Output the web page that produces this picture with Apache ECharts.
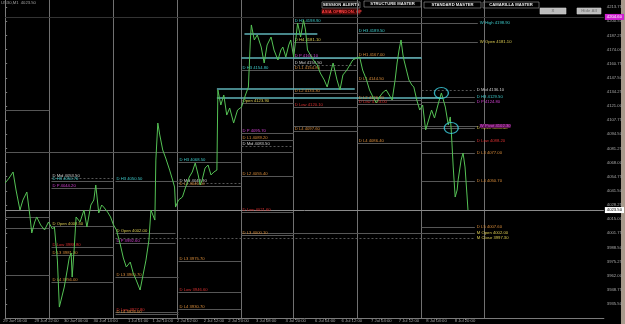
<!DOCTYPE html>
<html lang="en" style="height: 100%">
<head>
  <meta charset="utf-8">
  <title>US30 M1 levels</title>
</head>
<body style="height: 100%; margin: 0; background: #000">
  <div id="container" style="width: 625px; height: 324px"></div>
  <script type="text/javascript" src="https://cdn.jsdelivr.net/npm/echarts@6/dist/echarts.min.js"></script>
  <script type="text/javascript">
// price trace: bar index and close
const priceBars = [
  0, 4, 8, 11, 15, 18, 22, 25, 27, 30, 32, 36, 40, 44, 48, 50, 53, 55, 58, 60,
  63, 65, 67, 68, 70, 72, 76, 80, 83, 87, 90, 92, 95, 98, 100, 104, 107, 110, 113, 117,
  120, 123, 127, 130, 133, 137, 140, 143, 146, 148, 150, 152, 153, 155, 157, 160, 163, 167, 170, 172,
  173, 176, 180, 183, 187, 190, 193, 196, 198, 200, 203, 206, 209, 212, 215, 216, 219, 222, 225, 228,
  232, 236, 240, 244, 247, 249, 250, 253, 256, 260, 263, 266, 270, 273, 277, 280, 282, 285, 288, 290,
  293, 295, 297, 300, 303, 305, 307, 310, 313, 317, 320, 324, 327, 330, 333, 337, 340, 343, 347, 350,
  353, 357, 360, 363, 367, 370, 374, 377, 380, 384, 387, 390, 393, 396, 398, 400, 402, 404, 405, 408,
  410, 413, 415, 418, 421, 424, 427, 430, 433, 436, 440, 443, 445, 447, 450, 452, 453, 455, 457, 459,
  460, 463, 465, 467, 469, 470
];
const priceValues = [
  4048.9, 4053.5, 4059.2, 4042.3, 4023.5, 4032.9, 4040.4, 4018.8, 4002.0, 4012.3, 4017.0, 4009.5, 4004.8, 4012.3, 4005.7, 4007.6, 3976.6, 3932.5, 3943.8, 3951.3,
  3967.2, 3978.5, 3983.2, 3960.7, 3986.0, 4017.0, 4012.3, 4023.5, 4007.6, 4028.2, 4032.9, 4047.0, 4020.7, 4028.2, 4026.3, 4021.6, 4017.0, 4009.5, 4004.8, 3990.7,
  3978.5, 3970.1, 3974.7, 3964.4, 3957.9, 3948.5, 3962.6, 3976.6, 3995.4, 4023.5, 4018.8, 4014.1, 4070.4, 4105.1, 4093.9, 4079.8, 4072.3, 4061.0, 4051.7, 4045.1,
  4026.3, 4032.9, 4035.7, 4044.2, 4054.5, 4059.2, 4067.6, 4056.4, 4047.0, 4051.7, 4062.9, 4065.7, 4056.4, 4059.2, 4061.0, 4136.1, 4122.0, 4131.4, 4112.6, 4119.2,
  4105.1, 4117.3, 4120.1, 4131.4, 4138.9, 4183.0, 4197.1, 4183.0, 4187.7, 4176.4, 4161.4, 4178.3, 4185.8, 4173.6, 4164.2, 4173.6, 4176.4, 4167.0, 4178.3, 4183.0,
  4167.0, 4183.0, 4198.9, 4185.8, 4201.7, 4192.4, 4173.6, 4168.9, 4164.2, 4159.5, 4152.0, 4145.5, 4138.9, 4150.2, 4161.4, 4145.5, 4136.1, 4150.2, 4154.8, 4159.5,
  4164.2, 4166.1, 4167.0, 4154.8, 4145.5, 4136.1, 4128.6, 4123.9, 4129.5, 4134.2, 4136.1, 4131.4, 4126.7, 4145.5, 4161.4, 4173.6, 4183.0, 4168.9, 4164.2, 4153.0,
  4145.5, 4140.8, 4138.9, 4126.7, 4117.3, 4122.0, 4098.6, 4107.9, 4117.3, 4109.8, 4123.9, 4133.3, 4126.7, 4120.1, 4103.3, 4110.8, 4098.6, 4063.9, 4035.7, 4042.3,
  4051.7, 4070.4, 4077.0, 4063.9, 4037.6, 4023.5
];

// time axis labels
const timeTicks = [10, 42, 72, 102, 135, 160, 185, 212, 237, 265, 295, 325, 352, 382, 410, 438, 467];
const timeLabels = ['29 Jun 16:00', '29 Jun 22:00', '30 Jun 06:00', '30 Jun 14:00', '1 Jul 01:00', '1 Jul 10:00',
  '2 Jul 02:00', '2 Jul 12:00', '2 Jul 20:00', '3 Jul 08:00', '3 Jul 20:00', '6 Jul 04:00', '6 Jul 12:00',
  '7 Jul 04:00', '7 Jul 12:00', '8 Jul 04:00', '8 Jul 20:00'];

// day breaks (bar index)
const dayBreaks = [45, 110, 175, 240, 293, 358, 423, 487];

// levels: price, from bar, to bar, name
const levels = [
  [4117.3, 0, 45, ''], [4077.9, 0, 293, ''], [4017.0, 0, 45, ''], [4006.6, 0, 45, ''], [3962.6, 0, 45, ''],
  [4053.5, 47, 110, 'D Mid'], [4050.7, 47, 110, 'D H3'], [4044.2, 47, 110, 'D P'], [4008.5, 47, 110, 'D Open'],
  [3988.8, 47, 110, 'D Low'], [3981.3, 47, 110, 'D L3'], [3956.0, 47, 110, 'D L4'],
  [4050.5, 112, 176, 'D H3'], [4002.0, 112, 173, 'D Open'], [3992.6, 112, 173, 'D P'], [3960.7, 112, 176, 'D L3'],
  [3927.8, 112, 176, 'D Low'], [3926.0, 112, 176, 'D L4'],
  [4068.5, 176, 240, 'D H3'], [4048.9, 176, 240, 'D Mid'], [4046.0, 176, 240, 'D L1'], [3975.7, 176, 240, 'D L3'],
  [3946.6, 176, 240, 'D Low'], [3930.7, 176, 240, 'D L4'],
  [4154.8, 240, 293, 'D H3'], [4123.9, 240, 293, 'Open'], [4095.7, 240, 293, 'D P'], [4089.2, 240, 293, 'D L1'],
  [4083.5, 240, 293, 'D Mid'], [4055.4, 240, 293, 'D L2'], [4021.6, 240, 293, 'D Low'], [4000.1, 240, 293, 'D L3'],
  [4198.9, 293, 358, 'D H3'], [4181.1, 293, 358, 'D H4'], [4166.1, 293, 358, 'D P'], [4159.5, 293, 358, 'D Mid'],
  [4154.8, 293, 358, 'D L1'], [4133.3, 293, 358, 'D L2'], [4120.1, 293, 358, 'D Low'], [4097.6, 293, 358, 'D L4'],
  [4189.5, 358, 423, 'D H3'], [4167.0, 358, 423, 'D H1'], [4144.5, 358, 423, 'D L1'], [4126.7, 358, 423, 'D L2'],
  [4123.0, 358, 423, 'D Low'], [4086.4, 358, 423, 'D L4'],
  [4136.1, 423, 477, 'D Mid'], [4129.5, 423, 477, 'D H3'], [4124.8, 423, 477, 'D P'], [4100.4, 423, 477, 'D Open'],
  [4088.2, 423, 477, 'D Low'], [4077.0, 423, 477, 'D L3'], [4050.7, 423, 477, 'D L4'], [4007.6, 423, 477, 'D L5'],
  [4198.9, 293, 480, 'W High'], [4181.1, 293, 480, 'W Open'], [4102.3, 293, 480, 'W Pivot'],
  [4002.0, 240, 477, 'M Open'], [3997.3, 112, 477, 'M Close']
];

// highlighted zones (cyan)
const zoneLines = [[4188.6, 243, 317], [4166.1, 240, 423], [4137.0, 215, 355], [4128.6, 215, 443]];

// marked points
const marks = [[443, 4133.3], [453, 4100.4]];
const askPrice = 4204.6;

const nameColor = {
  'D H3': '#3cc8c8', 'W High': '#3cc8c8',
  'D H4': '#d8c850', 'D Open': '#d8c850', 'Open': '#d8c850', 'W Open': '#d8c850', 'M Open': '#d8c850', 'M Close': '#d8c850',
  'D P': '#d040d0', 'W Pivot': '#e050e0',
  'D Mid': '#d0d0d0',
  'D H1': '#d98c3a', 'D L1': '#d98c3a', 'D L2': '#d98c3a', 'D L3': '#d98c3a', 'D L4': '#d98c3a', 'D L5': '#d98c3a',
  'D Low': '#d83030'
};

var dom = document.getElementById('container');
var myChart = echarts.init(dom, null, { renderer: 'canvas' });

const FONT = 'Liberation Sans';
const last = priceValues[priceValues.length - 1];

const levelMarks = levels.map(function (lv) {
  const name = lv[3];
  const atEnd = name.indexOf('W ') === 0 || name.indexOf('M ') === 0 || lv[1] >= 423;
  const dashed = name === 'D Mid' || name === 'M Close';
  return [{
    coord: [lv[1], lv[0]],
    lineStyle: { color: '#565656', width: 1, type: dashed ? [2, 2] : 'solid' },
    label: {
      show: name !== '',
      formatter: name + ' ' + lv[0].toFixed(2),
      position: atEnd ? 'end' : 'insideStartTop',
      distance: atEnd ? 2 : [1, 0.5],
      color: nameColor[name] || '#ccc',
      fontSize: 4.2,
      fontFamily: FONT,
      backgroundColor: name === 'W Pivot' ? '#5a1450' : 'transparent'
    }
  }, { coord: [lv[2], lv[0]] }];
});

const zoneMarks = zoneLines.map(function (z) {
  return [{
    coord: [z[1], z[0]],
    lineStyle: { color: '#5fb3b8', width: 1.5, type: 'solid' },
    label: { show: false }
  }, { coord: [z[2], z[0]] }];
});

const dayMarks = dayBreaks.map(function (d) {
  return { xAxis: d, lineStyle: { color: '#707070', width: 1, type: 'solid' }, label: { show: false } };
});

function button(x, y, w, h, text, bg, fg, border) {
  return {
    type: 'group', x: x, y: y, silent: true,
    children: [
      { type: 'rect', shape: { x: 0, y: 0, width: w, height: h }, style: { fill: bg, stroke: border, lineWidth: 0.6 } },
      { type: 'text', style: { x: w / 2, y: h / 2 + 0.3, text: text, fill: fg, font: 'bold 4.2px ' + FONT, align: 'center', verticalAlign: 'middle' } }
    ]
  };
}

option = {
  backgroundColor: '#000',
  animation: false,
  grid: { left: 0, right: 17, top: 0, bottom: 6, show: false },
  xAxis: {
    type: 'value', min: 0, max: 608,
    axisLine: { show: true, lineStyle: { color: '#7a7a7a', width: 1 } },
    axisTick: { show: true, length: 2, customValues: timeTicks, lineStyle: { color: '#7a7a7a' } },
    axisLabel: {
      customValues: timeTicks, margin: 1, fontSize: 4.2, fontFamily: FONT, color: '#a0a0a0',
      formatter: function (v) { return timeLabels[timeTicks.indexOf(v)] || ''; }
    },
    splitLine: { show: false }
  },
  yAxis: {
    type: 'value', position: 'right', min: 3922.25, max: 4220.5, interval: 13.25,
    axisLine: { show: true, lineStyle: { color: '#7a7a7a', width: 1 } },
    axisTick: { show: true, length: 2, lineStyle: { color: '#7a7a7a' } },
    axisLabel: {
      margin: 3, fontSize: 4.2, fontFamily: FONT, color: '#a8a8a8', showMinLabel: false, showMaxLabel: false,
      formatter: function (v) { return v.toFixed(2); }
    },
    splitLine: { show: false }
  },
  graphic: [
    { type: 'text', silent: true, style: { x: 1, y: 1, text: 'US30,M1  ' + last.toFixed(2), fill: '#a0a0a0', font: '4.2px ' + FONT } },
    button(322, 2, 38, 6, 'SESSION ALERTS', '#000', '#e8e8e8', '#9a9a9a'),
    button(322, 9, 19, 5, 'ASIA OFF', '#3a0000', '#ff4040', '#8a2020'),
    button(342, 9, 18, 5, 'INDON. OF', '#3a0000', '#ff4040', '#8a2020'),
    button(364, 1, 57, 6, 'STRUCTURE MASTER', '#000', '#e8e8e8', '#9a9a9a'),
    button(424, 2, 57, 6, 'STANDARD MASTER', '#000', '#e8e8e8', '#9a9a9a'),
    button(483, 2, 56, 6, 'CAMARILLA MASTER', '#000', '#e8e8e8', '#9a9a9a'),
    button(540, 8, 26, 6, 'X', '#bdbdbd', '#808080', '#d0d0d0'),
    button(577, 8, 24, 6, 'Hide All', '#bdbdbd', '#808080', '#d0d0d0'),
    { type: 'rect', silent: true, shape: { x: 621, y: 0, width: 4, height: 324 }, style: { fill: '#a89a8c' } }
  ],
  series: [
    {
      type: 'line',
      data: priceBars.map(function (b, i) { return [b, priceValues[i]]; }),
      symbol: 'none',
      z: 5,
      lineStyle: { color: '#55c255', width: 1 },
      markLine: {
        silent: true,
        symbol: 'none',
        z: 3,
        data: dayMarks.concat(levelMarks, zoneMarks, [
          {
            yAxis: askPrice, lineStyle: { color: '#333', width: 1, type: 'solid' },
            label: { position: 'end', distance: 1, formatter: askPrice.toFixed(2), color: '#fff', backgroundColor: '#d020d0', fontSize: 4.2, fontFamily: FONT, padding: [1, 2] }
          },
          {
            yAxis: last, lineStyle: { color: '#8a8a8a', width: 1, type: 'solid' },
            label: { position: 'end', distance: 1, formatter: last.toFixed(2), color: '#000', backgroundColor: '#fff', fontSize: 4.2, fontFamily: FONT, padding: [1, 2] }
          }
        ])
      }
    },
    {
      type: 'scatter',
      data: marks,
      symbol: 'circle',
      symbolSize: [14, 11],
      z: 6,
      silent: true,
      itemStyle: { color: 'rgba(0,0,0,0)', borderColor: '#3fd6e6', borderWidth: 1.2 }
    }
  ]
};

if (option && typeof option === 'object') {
  myChart.setOption(option);
}

window.addEventListener('resize', myChart.resize);
  </script>
</body>
</html>
